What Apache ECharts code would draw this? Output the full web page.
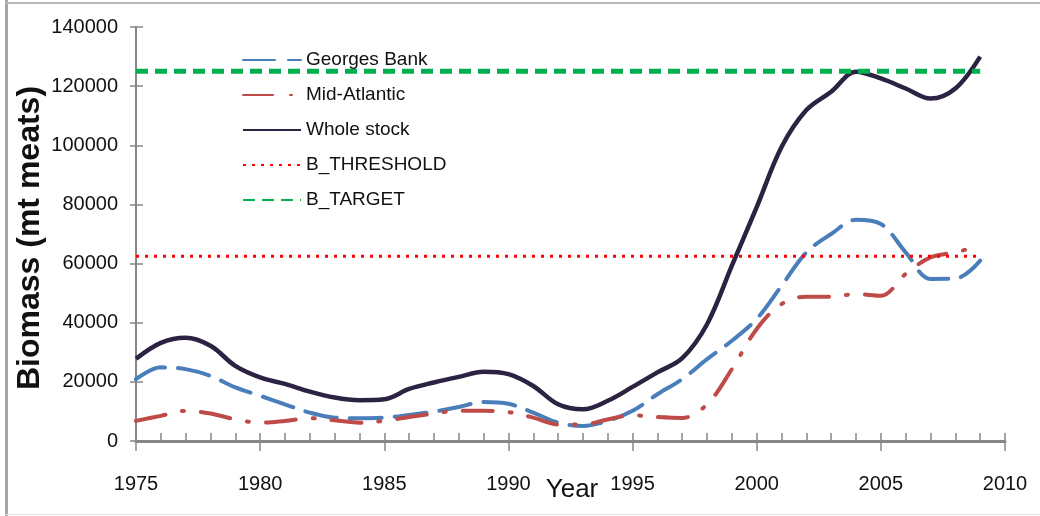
<!DOCTYPE html>
<html>
<head>
<meta charset="utf-8">
<script src="https://cdn.jsdelivr.net/npm/echarts@6/dist/echarts.min.js"></script>
<style>
  html, body { margin: 0; padding: 0; background: #fff; }
  #chart { width: 1040px; height: 516px; }
</style>
</head>
<body>
<div id="chart"></div>
<script>
// Sea scallop biomass by region, 1975-2009 (mt meats)
const years = [1975, 1976, 1977, 1978, 1979, 1980, 1981, 1982, 1983, 1984,
               1985, 1986, 1987, 1988, 1989, 1990, 1991, 1992, 1993, 1994,
               1995, 1996, 1997, 1998, 1999, 2000, 2001, 2002, 2003, 2004,
               2005, 2006, 2007, 2008, 2009];

const georgesBank = [20900, 24900, 24300, 22000, 18100, 15300, 12400, 9600, 7900, 7700,
                     7900, 8800, 9900, 11500, 13200, 12600, 9600, 6200, 5100, 6800,
                     10200, 15800, 20900, 27700, 33900, 41300, 52500, 63800, 70000, 74800,
                     73400, 63800, 54800, 54900, 61000];

const midAtlantic = [6800, 8500, 10200, 9300, 7300, 6200, 6800, 7700, 7000, 6200,
                     6800, 8100, 9300, 10200, 10200, 9800, 7900, 5600, 5600, 7300,
                     8700, 8100, 7800, 12400, 24300, 37900, 46300, 48800, 48800, 49700,
                     49100, 56500, 62100, 63800, 66100];

const wholeStock = [27800, 33200, 34900, 32200, 25400, 21500, 19300, 16700, 14700, 13800,
                    14100, 17600, 19800, 21700, 23400, 22600, 18600, 12400, 10700, 13600,
                    18300, 23200, 28000, 39500, 59300, 79100, 99400, 111900, 118100, 124900,
                    122600, 119200, 115800, 119200, 130000];

const B_THRESHOLD = 62500;
const B_TARGET = 125000;

const seriesNames = ['Georges Bank', 'Mid-Atlantic', 'Whole stock', 'B_THRESHOLD', 'B_TARGET'];

const pair = (vals) => years.map((y, i) => [y, vals[i]]);
const flat = (v) => years.map((y) => [y, v]);

const FONT = '"Liberation Sans", Arial, sans-serif';
const AXIS_GRAY = '#868686';

const chart = echarts.init(document.getElementById('chart'), null, { renderer: 'canvas' });

chart.setOption({
  backgroundColor: '#ffffff',
  animation: false,
  grid: { left: 136, right: 35, top: 27, bottom: 75, containLabel: false, outerBoundsMode: 'none' },
  legend: {
    orient: 'vertical',
    left: 237,
    top: 44,
    itemWidth: 58,
    itemHeight: 14,
    itemGap: 13,
    data: seriesNames,
    itemStyle: { opacity: 0 },
    textStyle: { fontFamily: FONT, fontSize: 19, lineHeight: 22, color: '#111' }
  },
  xAxis: [
    {
      type: 'value',
      min: 1975, max: 2010, interval: 5,
      axisLine: { show: true, lineStyle: { color: AXIS_GRAY, width: 3 } },
      axisTick: { show: true, inside: true, length: 8, lineStyle: { color: AXIS_GRAY, width: 1.5 } },
      minorTick: { show: true, splitNumber: 5, length: 8, lineStyle: { color: AXIS_GRAY, width: 1.5 } },
      splitLine: { show: false },
      axisLabel: {
        margin: 33, fontFamily: FONT, fontSize: 20, color: '#111',
        formatter: (v) => String(v)
      }
    },
    {
      // outer half of the major ticks (crossing tick marks)
      type: 'value',
      min: 1975, max: 2010, interval: 5,
      position: 'bottom', offset: 0,
      axisLine: { show: false },
      axisTick: { show: true, inside: false, length: 10, lineStyle: { color: AXIS_GRAY, width: 1.5 } },
      axisLabel: { show: false },
      splitLine: { show: false }
    }
  ],
  yAxis: [
    {
      type: 'value',
      min: 0, max: 140000, interval: 20000,
      axisLine: { show: true, lineStyle: { color: AXIS_GRAY, width: 2 } },
      axisTick: { show: true, inside: true, length: 7, lineStyle: { color: AXIS_GRAY, width: 1.5 } },
      splitLine: { show: false },
      axisLabel: {
        margin: 18, fontFamily: FONT, fontSize: 20, color: '#111',
        formatter: (v) => String(v)
      }
    },
    {
      type: 'value',
      min: 0, max: 140000, interval: 20000,
      position: 'left', offset: 0,
      axisLine: { show: false },
      axisTick: { show: true, inside: false, length: 6, lineStyle: { color: AXIS_GRAY, width: 1.5 } },
      axisLabel: { show: false },
      splitLine: { show: false }
    }
  ],
  series: [
    {
      name: 'Georges Bank', type: 'line', data: pair(georgesBank),
      symbol: 'none', smooth: 0.35,
      color: '#4a7ebb',
      lineStyle: { color: '#4a7ebb', width: 4, type: [32, 13], cap: 'round' }
    },
    {
      name: 'Mid-Atlantic', type: 'line', data: pair(midAtlantic),
      symbol: 'none', smooth: 0.35,
      color: '#be4b48',
      lineStyle: { color: '#be4b48', width: 4, type: [30, 17, 2, 17], cap: 'round' }
    },
    {
      name: 'Whole stock', type: 'line', data: pair(wholeStock),
      symbol: 'none', smooth: 0.35,
      color: '#2c2342',
      lineStyle: { color: '#2c2342', width: 4.5 }
    },
    {
      name: 'B_THRESHOLD', type: 'line', data: flat(B_THRESHOLD),
      symbol: 'none',
      color: '#ff0000',
      lineStyle: { color: '#ff0000', width: 3, type: [3, 6] }
    },
    {
      name: 'B_TARGET', type: 'line', data: flat(B_TARGET),
      symbol: 'none',
      color: '#00b050',
      lineStyle: { color: '#00b050', width: 5, type: [12, 7] }
    }
  ],
  graphic: [
    { type: 'rect', left: 5, top: 0, shape: { width: 3, height: 516 }, style: { fill: '#a6a6a6' }, silent: true },
    { type: 'rect', left: 5, top: 2, shape: { width: 1035, height: 2 }, style: { fill: '#b8b8b8' }, silent: true },
    { type: 'rect', left: 5, top: 514, shape: { width: 1035, height: 1 }, style: { fill: '#e4e4e4' }, silent: true },
    {
      // y-axis title
      type: 'text',
      x: 30, y: 238,
      rotation: Math.PI / 2,
      style: {
        text: 'Biomass (mt meats)',
        fontFamily: FONT, fontWeight: 'bold', fontSize: 32, fill: '#111',
        align: 'center', verticalAlign: 'middle'
      },
      silent: true
    },
    {
      // x-axis title
      type: 'text',
      x: 572, y: 490,
      style: {
        text: 'Year',
        fontFamily: FONT, fontSize: 26, fill: '#111',
        align: 'center', verticalAlign: 'middle'
      },
      silent: true
    }
  ]
});
</script>
</body>
</html>
